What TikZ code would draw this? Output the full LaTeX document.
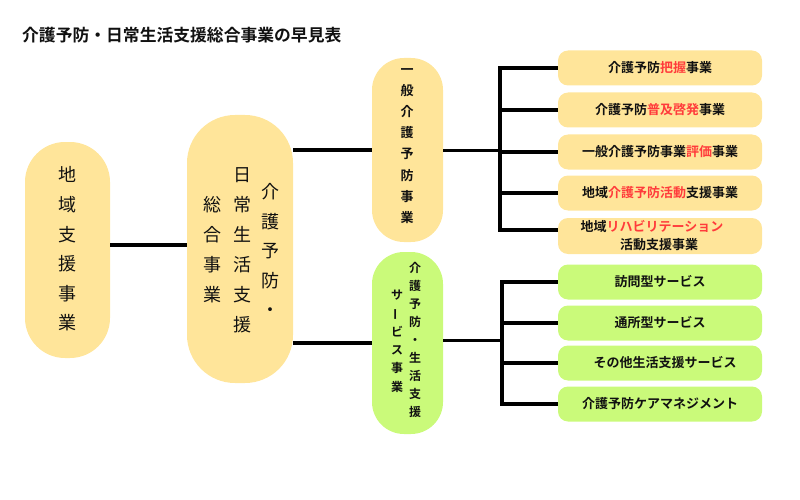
\documentclass[tikz,border=0pt]{standalone}
\usepackage{fontspec}
\usepackage{graphicx}
\setmainfont{Noto Sans CJK JP}[BoldFont={Noto Sans CJK JP Bold}]
\definecolor{pillY}{HTML}{FFE59A}
\definecolor{pillG}{HTML}{CAFA7A}
\definecolor{hl}{HTML}{FF3B3B}
\definecolor{ink}{HTML}{111111}
\newcommand{\hi}[1]{\textcolor{hl}{#1}}
\newcommand{\vbar}{\rotatebox[origin=c]{90}{ー}}
\begin{document}
\begin{tikzpicture}[x=1pt,y=-1pt,
  pill/.style={rectangle, rounded corners=#1, draw=none, inner sep=0pt},
  ypill/.style={pill=#1, fill=pillY},
  gpill/.style={pill=#1, fill=pillG},
  item/.style={rectangle, rounded corners=10pt, inner sep=0pt, minimum width=204pt, minimum height=35pt, text=ink, font=\bfseries\fontsize{13}{15}\selectfont},
  bigtxt/.style={inner sep=0pt, align=center, text=ink},
  conn/.style={draw=black, line width=4pt},
  bus/.style={draw=black, line width=3.5pt, line join=miter},
]
\useasboundingbox (0,0) rectangle (800,500);

% title
\node[anchor=west, inner sep=0pt, text=ink, font=\bfseries\fontsize{16.8}{18}\selectfont] (title) at (22,35) {介護予防・日常生活支援総合事業の早見表};

% big pills
\node[ypill=40pt, minimum width=85pt, minimum height=216pt] (n1) at (67.5,250) {};
\node[bigtxt, font=\fontsize{18}{29.6}\selectfont] (n1t) at (67.5,249) {地\\域\\支\\援\\事\\業};

\node[ypill=48pt, minimum width=106pt, minimum height=268pt] (n2) at (240,249) {};
\node[bigtxt, font=\fontsize{18}{29.5}\selectfont] (n2a) at (270,250) {介\\護\\予\\防\\・};
\node[bigtxt, font=\fontsize{18}{30}\selectfont] (n2b) at (242,250) {日\\常\\生\\活\\支\\援};
\node[bigtxt, font=\fontsize{18}{30}\selectfont] (n2c) at (212,250) {総\\合\\事\\業};

\node[ypill=32pt, minimum width=71pt, minimum height=184pt] (n3) at (407.5,150) {};
\node[bigtxt, font=\bfseries\fontsize{13}{21.1}\selectfont] (n3t) at (407,146) {一\\般\\介\\護\\予\\防\\事\\業};

\node[gpill=32pt, minimum width=71pt, minimum height=182pt] (n4) at (407.5,343) {};
\node[bigtxt, font=\bfseries\fontsize{12}{18}\selectfont] (n4a) at (415,340) {介\\護\\予\\防\\・\\生\\活\\支\\援};
\node[bigtxt, font=\bfseries\fontsize{12}{18.4}\selectfont] (n4b) at (397,341) {サ\\\vbar\\ビ\\ス\\事\\業};

% yellow items
\node[item, fill=pillY] (i1) at (660,68) {介護予防\hi{把握}事業};
\node[item, fill=pillY] (i2) at (660,110) {介護予防\hi{普及啓発}事業};
\node[item, fill=pillY] (i3) at (660,152) {一般介護予防事業\hi{評価}事業};
\node[item, fill=pillY] (i4) at (660,193) {地域\hi{介護予防活動}支援事業};
\node[item, fill=pillY, minimum height=36pt] (i5) at (660,236) {};
\node[inner sep=0pt, text=ink, font=\bfseries\fontsize{13}{15}\selectfont] (i5a) at (652,227) {地域\hi{リハビリテーション}};
\node[inner sep=0pt, text=ink, font=\bfseries\fontsize{13}{15}\selectfont] (i5b) at (659,245) {活動支援事業};

% green items
\node[item, fill=pillG] (g1) at (660,282) {訪問型サービス};
\node[item, fill=pillG] (g2) at (660,323) {通所型サービス};
\node[item, fill=pillG] (g3) at (660,363) {\hspace{10pt}その他生活支援サービス};
\node[item, fill=pillG] (g4) at (660,404) {介護予防ケアマネジメント};

% connectors
\draw[conn] ([yshift=5pt]n1.east) -- ([yshift=4pt]n2.west);
\draw[conn] (n2.east |- n3.west) -- (n3.west);
\draw[conn] (n2.east |- n4.west) -- (n4.west);

\coordinate (b1) at (500,150);
\coordinate (b2) at (502,340);
\coordinate (i5w) at ([yshift=6pt]i5.west);

\draw[bus, line width=3pt] (n3.east) -- (b1);
\draw[bus] (i1.west) -- (b1 |- i1.west) -- (b1 |- i5w) -- (i5w);
\draw[bus] (b1 |- i2.west) -- (i2.west);
\draw[bus] (b1 |- i3.west) -- (i3.west);
\draw[bus] (b1 |- i4.west) -- (i4.west);

\draw[bus, line width=3pt] (n4.east |- b2) -- (b2);
\draw[bus] (g1.west) -- (b2 |- g1.west) -- (b2 |- g4.west) -- (g4.west);
\draw[bus] (b2 |- g2.west) -- (g2.west);
\draw[bus] (b2 |- g3.west) -- (g3.west);
\end{tikzpicture}
\end{document}
